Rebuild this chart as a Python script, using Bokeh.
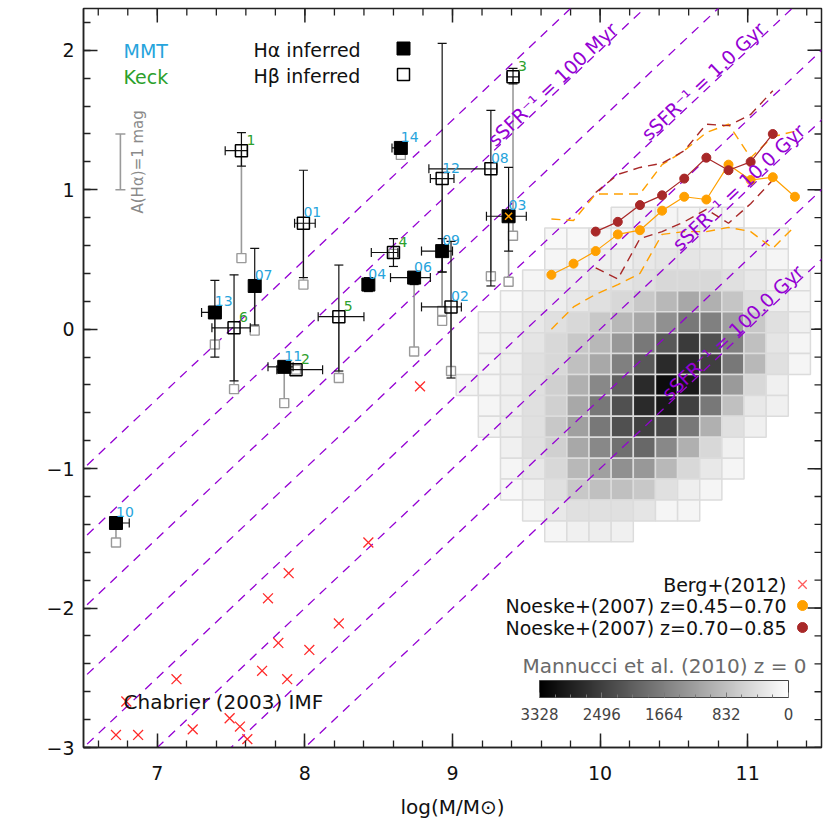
import math
from bokeh.plotting import figure
from bokeh.models import (Range1d, FixedTicker, ColumnDataSource,
                          LinearColorMapper, ColorBar, Label)
from bokeh.palettes import Greys256
from bokeh.transform import transform
from bokeh.core.properties import value
from bokeh.embed import file_html
from bokeh.resources import INLINE

# ---------------- data ----------------
gal_id = ["1", "01", "13", "6", "07", "11", "2", "5", "04", "4", "06", "09", "12", "02", "14", "08", "3", "03", "10"]
telescope = ["Keck", "MMT", "MMT", "Keck", "MMT", "MMT", "Keck", "Keck", "MMT", "Keck", "MMT", "MMT", "MMT", "MMT",
             "MMT", "MMT", "Keck", "MMT", "MMT"]
logm = [7.57, 7.99, 7.39, 7.52, 7.66, 7.86, 7.94, 8.23, 8.43, 8.60, 8.74, 8.93, 8.93, 8.99, 8.65, 9.26, 9.41, 9.38, 6.72]
logm_lo = [7.46, 7.93, 7.30, 7.37, 7.66, 7.75, 7.81, 8.09, 8.43, 8.45, 8.58, 8.79, 8.85, 8.79, 8.59, 8.84, 9.37, 9.23, 6.72]
logm_hi = [7.61, 8.07, 7.43, 7.63, 7.66, 7.92, 8.12, 8.40, 8.43, 8.63, 8.85, 9.00, 9.01, 9.06, 8.65, 9.30, 9.45, 9.50, 6.81]
logsfr = [1.28, 0.76, 0.12, 0.01, 0.31, -0.27, -0.29, 0.09, 0.32, 0.55, 0.37, 0.56, 1.08, 0.16, 1.30, 1.15, 1.81, 0.81, -1.39]
logsfr_lo = [1.17, 0.37, -0.20, -0.37, 0.03, -0.27, -0.29, -0.30, 0.27, 0.45, 0.32, 0.41, 0.41, -0.35, 1.30, 0.31, 1.76, 0.56, -1.39]
logsfr_hi = [1.41, 1.14, 0.35, 0.39, 0.58, -0.27, -0.29, 0.46, 0.37, 0.65, 0.41, 0.65, 2.05, 0.63, 1.30, 1.57, 1.87, 1.16, -1.39]
halpha_inferred = [False, False, True, False, True, True, False, False, True, False, True, True, False, False, True,
                   False, False, True, True]
logsfr_uncorr = [0.51, 0.32, -0.11, -0.43, -0.01, -0.53, -0.29, -0.35, 0.32, 0.54, -0.16, 0.06, 0.13, -0.30, 1.25,
                 0.38, 0.67, 0.34, -1.53]
flagged_ids = ["03"]

berg_logm = [8.43, 7.89, 7.75, 8.23, 7.82, 8.03, 7.71, 7.13, 7.88, 6.79, 7.49, 7.56, 7.24, 6.72, 6.87, 7.61, 8.78]
berg_logsfr = [-1.53, -1.75, -1.93, -2.11, -2.25, -2.30, -2.45, -2.51, -2.51, -2.67, -2.79, -2.85, -2.87, -2.91,
               -2.91, -2.94, -0.41]

noeske1_logm = [9.67, 9.82, 9.97, 10.12, 10.27, 10.42, 10.57, 10.72, 10.87, 11.02, 11.17, 11.32]
noeske1_sfr = [0.39, 0.47, 0.56, 0.68, 0.71, 0.85, 0.95, 0.93, 1.18, 1.07, 1.09, 0.95]
noeske1_hi = [0.79, 0.78, 0.97, 0.97, 0.97, 1.18, 1.28, 1.41, 1.47, 1.23, 1.38, 1.42]
noeske1_lo = [0.00, 0.16, 0.25, 0.32, 0.40, 0.68, 0.70, 0.70, 0.73, 0.70, 0.58, 0.74]

noeske2_logm = [9.97, 10.12, 10.27, 10.42, 10.57, 10.72, 10.87, 11.02, 11.17]
noeske2_sfr = [0.70, 0.77, 0.89, 0.96, 1.08, 1.23, 1.14, 1.20, 1.40]
noeske2_hi = [0.98, 1.11, 1.16, 1.19, 1.28, 1.47, 1.46, 1.54, 1.71]
noeske2_lo = [0.44, 0.36, 0.65, 0.70, 0.77, 0.86, 0.76, 0.90, 1.07]

mannucci_logm = [9.10, 9.25, 9.40, 9.55, 9.70, 9.85, 10.00, 10.15, 10.30, 10.45, 10.60, 10.75, 10.90, 11.05, 11.20, 11.35]
mannucci_logsfr = [0.80, 0.65, 0.50, 0.35, 0.20, 0.05, -0.10, -0.25, -0.40, -0.55, -0.70, -0.85, -1.00, -1.15, -1.30, -1.45]
N = None
mannucci_counts = [
    [N, N, N, N, N, N, N, 131, 131, 131, 131, 91, 91, N, N, N],
    [N, N, N, N, 91, 91, 131, 131, 196, 196, 222, 196, 196, 131, 91, N],
    [N, N, N, N, 131, 131, 196, 222, 300, 339, 339, 300, 222, 196, 131, N],
    [N, N, N, 131, 196, 222, 300, 339, 405, 509, 509, 509, 405, 300, 196, 131],
    [N, N, 91, 196, 222, 300, 405, 509, 718, 927, 1135, 1031, 757, 444, 222, 131],
    [N, 131, 196, 300, 405, 509, 718, 927, 1135, 1449, 1762, 1657, 1240, 718, 405, 196],
    [N, 131, 196, 339, 509, 718, 927, 1344, 1762, 2180, 2571, 2284, 1657, 822, 339, 131],
    [N, 131, 222, 405, 509, 822, 1135, 1657, 2180, 2780, 2806, 2493, 1762, 927, 405, 131],
    [131, 131, 222, 405, 613, 1031, 1553, 2075, 2780, 3171, 3015, 2284, 1318, 509, 196, N],
    [N, 131, 222, 405, 613, 1135, 1762, 2284, 2780, 3015, 2493, 1762, 822, 300, 196, N],
    [N, 131, 222, 405, 718, 1240, 1762, 2284, 2493, 2362, 1762, 1031, 405, 196, N, N],
    [N, N, 196, 405, 613, 1135, 1553, 1866, 1971, 1553, 1031, 509, 196, N, N, N],
    [N, N, 131, 300, 509, 927, 1240, 1449, 1344, 927, 509, 300, 131, N, N, N],
    [N, N, 91, 196, 405, 718, 822, 822, 718, 405, 222, 131, N, N, N, N],
    [N, N, N, 131, 300, 405, 405, 405, 339, 131, 131, N, N, N, N, N],
    [N, N, N, N, 131, 196, 222, 196, N, N, N, N, N, N, N, N],
]
mannucci_bin = 0.15
colorbar_ticks = [3328, 2496, 1664, 832, 0]
colorbar_max = 3328

ssfr_inv_logyr = [7.5, 8.0, 8.5, 9.0, 9.5, 10.0, 10.5, 11.0]
ssfr_label_logyr = [8.0, 9.0, 10.0, 11.0]
ssfr_label_text = ["100 Myr", "1.0 Gyr", "10.0 Gyr", "100.0 Gyr"]
ssfr_label_logm = [9.26, 10.30, 10.51, 10.44]

x_ticks = [7, 8, 9, 10, 11]
y_ticks = [-3, -2, -1, 0, 1, 2]
x_minor = [round(6.6 + 0.2 * i, 1) for i in range(25)]
y_minor = [round(-3.0 + 0.2 * i, 1) for i in range(27)]

# ---------------- style ----------------
FONT = "DejaVu Sans"
PURPLE = "#9400d3"
ORANGE = "#ffa000"
DARKRED = "#a82828"
CYAN = "#27a4dc"
GREEN = "#2ca02c"
GRAY = "#9a9a9a"
AX = "#222222"
W = H = 825
MB_L, MB_R, MB_T, MB_B = 83, 4, 8, 78
FRAME_W = W - MB_L - MB_R
FRAME_H = H - MB_T - MB_B
X0, X1, Y0, Y1 = 6.5, 11.5, -3.0, 2.3

p = figure(width=W, height=H, x_range=Range1d(X0, X1), y_range=Range1d(Y0, Y1),
           output_backend="svg", toolbar_location=None,
           min_border_left=MB_L, min_border_right=MB_R, min_border_top=MB_T, min_border_bottom=MB_B)
p.xgrid.visible = False
p.ygrid.visible = False
p.outline_line_color = AX
p.outline_line_width = 1.5
p.background_fill_color = "white"
p.border_fill_color = "white"

bottom_ax = p.below[0]
left_ax = p.left[0]
bottom_ax.ticker = FixedTicker(ticks=x_ticks, minor_ticks=x_minor)
left_ax.ticker = FixedTicker(ticks=y_ticks, minor_ticks=y_minor)
for ax in [bottom_ax, left_ax]:
    ax.major_tick_in = 14
    ax.major_tick_out = 0
    ax.minor_tick_in = 7
    ax.minor_tick_out = 0
    ax.axis_line_color = AX
    ax.axis_line_width = 1.5
    ax.major_tick_line_color = AX
    ax.major_tick_line_width = 1.5
    ax.minor_tick_line_color = AX
    ax.minor_tick_line_width = 1.3
    ax.major_label_text_font = FONT
    ax.major_label_text_font_size = "19px"
    ax.major_label_text_color = "#111111"
    ax.axis_label_text_font = FONT
    ax.axis_label_text_font_style = "normal"
    ax.axis_label_text_font_size = "20px"
    ax.axis_label_text_color = "#111111"
bottom_ax.axis_label = "log(M/M⊙)"
bottom_ax.major_label_standoff = 18
bottom_ax.axis_label_standoff = 12
left_ax.major_label_standoff = 9
left_ax.major_label_overrides = {t: str(t).replace("-", "−") for t in y_ticks}

# inward ticks on the top and right frame edges (half of each dash is clipped away)
p.scatter(x=x_ticks, y=[Y1] * len(x_ticks), marker="dash", angle=math.pi / 2, size=28,
          line_color=AX, line_width=1.5)
p.scatter(x=x_minor, y=[Y1] * len(x_minor), marker="dash", angle=math.pi / 2, size=14,
          line_color=AX, line_width=1.3)
p.scatter(x=[X1] * len(y_ticks), y=y_ticks, marker="dash", size=28, line_color=AX, line_width=1.5)
p.scatter(x=[X1] * len(y_minor), y=y_minor, marker="dash", size=14, line_color=AX, line_width=1.3)

# ---------------- Mannucci 2D histogram ----------------
cx, cy, cc = [], [], []
for j, row in enumerate(mannucci_counts):
    for i, c in enumerate(row):
        if c is not None:
            cx.append(mannucci_logm[i])
            cy.append(mannucci_logsfr[j])
            cc.append(c)
cell_src = ColumnDataSource(dict(x=cx, y=cy, count=cc))
cell_mapper = LinearColorMapper(palette=Greys256[::-1], low=0, high=colorbar_max)
p.rect(x="x", y="y", width=mannucci_bin, height=mannucci_bin, source=cell_src,
       fill_color=transform("count", cell_mapper), line_color="#dcdcdc", line_width=1.5)

# ---------------- constant sSFR lines ----------------
xr = [X0 - 1, X1 + 1]
p.multi_line(xs=[xr for _ in ssfr_inv_logyr], ys=[[x - c for x in xr] for c in ssfr_inv_logyr],
             line_color=PURPLE, line_width=1.3, line_dash="9 7")
angle = math.atan((FRAME_H / (Y1 - Y0)) / (FRAME_W / (X1 - X0)))
for tau, txt, m in zip(ssfr_label_logyr, ssfr_label_text, ssfr_label_logm):
    p.add_layout(Label(x=m, y=m - tau + 0.08, text="sSFR⁻¹ = " + txt, angle=angle,
                       text_font=FONT, text_font_size="19px", text_color=PURPLE,
                       text_baseline="alphabetic", text_align="left"))

# ---------------- Noeske ----------------
p.line(noeske1_logm, noeske1_hi, line_color=ORANGE, line_width=1.4, line_dash="9 6")
p.line(noeske1_logm, noeske1_lo, line_color=ORANGE, line_width=1.4, line_dash="9 6")
p.line(noeske2_logm, noeske2_hi, line_color=DARKRED, line_width=1.4, line_dash="9 6")
p.line(noeske2_logm, noeske2_lo, line_color=DARKRED, line_width=1.4, line_dash="9 6")
p.line(noeske1_logm, noeske1_sfr, line_color=ORANGE, line_width=1.2)
p.line(noeske2_logm, noeske2_sfr, line_color=DARKRED, line_width=1.2)
p.scatter(noeske1_logm, noeske1_sfr, marker="circle", size=9, fill_color=ORANGE, line_color=ORANGE)
p.scatter(noeske2_logm, noeske2_sfr, marker="circle", size=9, fill_color=DARKRED, line_color=DARKRED)

# ---------------- Berg ----------------
p.scatter(berg_logm, berg_logsfr, marker="x", size=14, line_color="#ff2a2a", line_width=1.3)

# ---------------- this work ----------------
src = ColumnDataSource(dict(
    id=gal_id, m=logm, s=logsfr, su=logsfr_uncorr,
    color=[CYAN if t == "MMT" else GREEN for t in telescope],
    xoff=[0 if t == "MMT" else 5 for t in telescope],
))
p.segment(x0="m", y0="s", x1="m", y1="su", source=src, line_color=GRAY, line_width=1.6)
p.scatter(x="m", y="su", source=src, marker="square", size=9, fill_color="white",
          line_color=GRAY, line_width=1.4)

ye = [k for k in range(len(gal_id)) if logsfr_hi[k] > logsfr_lo[k]]
xe = [k for k in range(len(gal_id)) if logm_hi[k] > logm_lo[k]]
p.segment(x0=[logm[k] for k in ye], y0=[logsfr_lo[k] for k in ye], x1=[logm[k] for k in ye],
          y1=[logsfr_hi[k] for k in ye], line_color="#111111", line_width=1.2)
p.segment(x0=[logm_lo[k] for k in xe], y0=[logsfr[k] for k in xe], x1=[logm_hi[k] for k in xe],
          y1=[logsfr[k] for k in xe], line_color="#111111", line_width=1.2)
p.scatter(x=[logm[k] for k in ye] * 2, y=[logsfr_lo[k] for k in ye] + [logsfr_hi[k] for k in ye],
          marker="dash", size=9, line_color="#111111", line_width=1.2)
p.scatter(x=[logm_lo[k] for k in xe] + [logm_hi[k] for k in xe], y=[logsfr[k] for k in xe] * 2,
          marker="dash", angle=math.pi / 2, size=9, line_color="#111111", line_width=1.2)

ha = [k for k in range(len(gal_id)) if halpha_inferred[k]]
hb = [k for k in range(len(gal_id)) if not halpha_inferred[k]]
p.scatter(x=[logm[k] for k in ha], y=[logsfr[k] for k in ha], marker="square", size=13,
          fill_color="black", line_color="black")
p.scatter(x=[logm[k] for k in hb], y=[logsfr[k] for k in hb], marker="square", size=12,
          fill_color=None, line_color="black", line_width=1.5)
fl = [k for k in range(len(gal_id)) if gal_id[k] in flagged_ids]
p.scatter(x=[logm[k] for k in fl], y=[logsfr[k] for k in fl], marker="x", size=10,
          line_color=ORANGE, line_width=1.5)

p.text(x="m", y="s", text="id", source=src, text_color="color", x_offset="xoff", y_offset=-6,
       text_font=value(FONT), text_font_size="14px", text_baseline="bottom", text_align="left")

# extinction scale bar: A(Halpha) = 1 mag -> 0.4 dex
ext_x = 6.75
ext_base = 1.0
ext_dex = 0.4
p.segment(x0=[ext_x], y0=[ext_base], x1=[ext_x], y1=[ext_base + ext_dex], line_color=GRAY, line_width=1.6)
p.scatter(x=[ext_x, ext_x], y=[ext_base, ext_base + ext_dex], marker="dash", size=10,
          line_color=GRAY, line_width=1.6)

# ---------------- texts & legend keys ----------------
FL, FB = MB_L, H - MB_B  # frame left / bottom in canvas pixels


def sx(px):
    return px - FL


def sy(py):
    return FB - py


def dx(px):  # canvas pixel -> data x (legend key placement)
    return X0 + (px - FL) * (X1 - X0) / FRAME_W


def dy(py):
    return Y0 + (FB - py) * (Y1 - Y0) / FRAME_H


def lab(text, px, py, color="#111111", size="19px", align="left", baseline="middle", ang=0.0):
    p.add_layout(Label(x=sx(px), y=sy(py), x_units="screen", y_units="screen", text=text,
                       text_font=FONT, text_font_size=size, text_color=color, text_align=align,
                       text_baseline=baseline, angle=ang))


lab("log(SFR[Hα,Hβ]/M⊙ yr⁻¹)", 22, 418, size="20px", align="center", ang=math.pi / 2)
lab("MMT", 123, 50, color=CYAN)
lab("Keck", 123, 76, color=GREEN)
lab("Hα inferred", 253, 49)
lab("Hβ inferred", 253, 75)
lab("A(Hα)=1 mag", 137, 213, color="#8a8a8a", size="15px", ang=math.pi / 2)
lab("Chabrier (2003) IMF", 123, 701, size="20px")
lab("Berg+(2012)", 786, 584, size="19px", align="right")
lab("Noeske+(2007) z=0.45−0.70", 786, 605, size="19px", align="right")
lab("Noeske+(2007) z=0.70−0.85", 786, 627, size="19px", align="right")
lab("Mannucci et al. (2010) z = 0", 664, 665, color="#6a6a6a", size="20px", align="center")

# legend keys
p.scatter(x=[dx(403)], y=[dy(48)], marker="square", size=13, fill_color="black", line_color="black")
p.scatter(x=[dx(403)], y=[dy(74)], marker="square", size=12, fill_color=None, line_color="black", line_width=1.5)
p.scatter(x=[dx(802)], y=[dy(584)], marker="x", size=12, line_color="#ff5a5a", line_width=1.3)
p.scatter(x=[dx(802)], y=[dy(605)], marker="circle", size=10, fill_color=ORANGE, line_color=ORANGE)
p.scatter(x=[dx(802)], y=[dy(627)], marker="circle", size=10, fill_color=DARKRED, line_color=DARKRED)

cb_mapper = LinearColorMapper(palette=Greys256, low=-colorbar_max, high=0)
cbar = ColorBar(color_mapper=cb_mapper, orientation="horizontal", location=(sx(539), 25),
                width=249, height=17, padding=0,
                ticker=FixedTicker(ticks=[-t for t in colorbar_ticks],
                                   minor_ticks=[-208 * i for i in range(17)]),
                major_label_overrides={-t: str(t) for t in colorbar_ticks},
                major_label_text_font=FONT, major_label_text_font_size="15px", major_label_text_color="#444444",
                label_standoff=10, bar_line_color="#444444", bar_line_width=1,
                major_tick_line_color="#777777", minor_tick_line_color="#777777",
                major_tick_in=5, minor_tick_in=3,
                background_fill_alpha=0, border_line_color=None)
p.add_layout(cbar)

open("out.html", "w").write(file_html(p, INLINE))
